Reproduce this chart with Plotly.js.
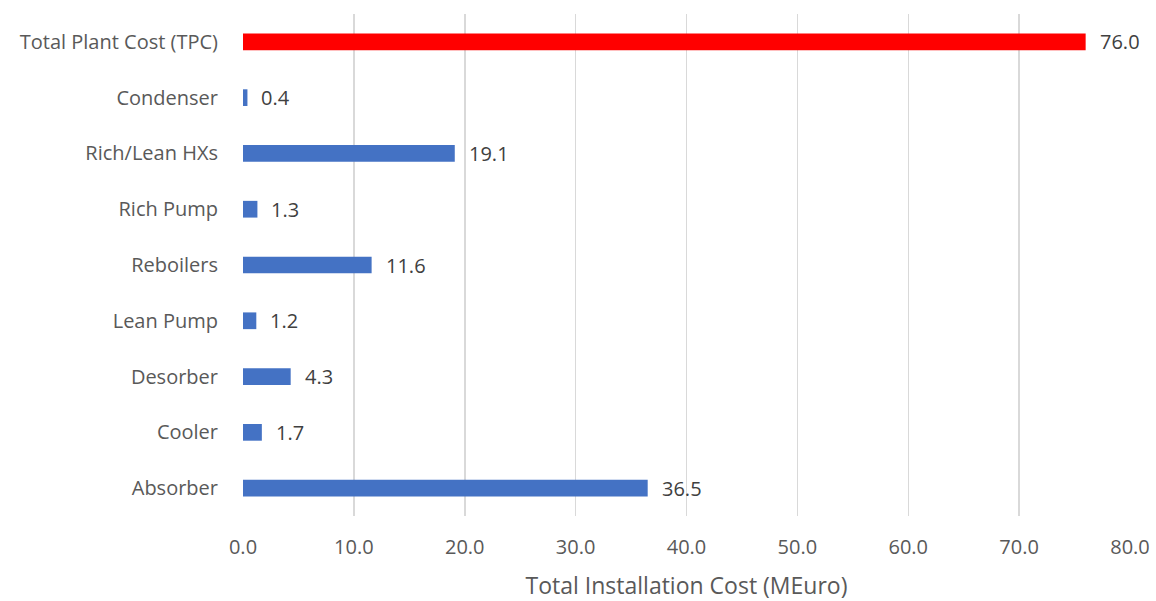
<!DOCTYPE html>
<html><head><meta charset="utf-8">
<script src="https://cdn.plot.ly/plotly-3.0.1.min.js"></script>
<style>html,body{margin:0;padding:0;background:#fff}#chart{width:1156px;height:601px}</style>
</head><body><div id="chart"></div>
<script>
const categories = ["Absorber","Cooler","Desorber","Lean Pump","Reboilers","Rich Pump","Rich/Lean HXs","Condenser","Total Plant Cost (TPC)"];
const costs = [36.5, 1.7, 4.3, 1.2, 11.6, 1.3, 19.1, 0.4, 76.0];
const barColors = ["#4472C4","#4472C4","#4472C4","#4472C4","#4472C4","#4472C4","#4472C4","#4472C4","#FF0000"];
const xTicks = [0,10,20,30,40,50,60,70,80];

const font = "Open Sans, sans-serif";
const trace = {
  type: "bar", orientation: "h",
  y: categories, x: costs,
  marker: {color: barColors},
  width: 0.3,
  hoverinfo: "none"
};
const annotations = categories.map((c,i)=>({
  x: costs[i], y: c, xref:"x", yref:"y",
  text: costs[i].toFixed(1), showarrow:false,
  xanchor:"left", xshift: 12,
  font:{family:font, size:20, color:"#404040"}
}));
const layout = {
  width:1156, height:601,
  margin:{l:243, r:26, t:14, b:85},
  paper_bgcolor:"#fff", plot_bgcolor:"#fff",
  showlegend:false,
  bargap:0.7,
  xaxis:{
    range:[0,80], tickvals:xTicks, tickformat:".1f",
    showgrid:true, gridcolor:"#d9d9d9", gridwidth:1.5,
    zeroline:false, showline:false,
    ticks:"outside", ticklen:13, tickcolor:"rgba(0,0,0,0)",
    tickfont:{family:font, size:20, color:"#595959"},
    title:{text:"Total Installation Cost (MEuro)", standoff:20, font:{family:font, size:23, color:"#595959"}}
  },
  yaxis:{
    type:"category", categoryorder:"array", categoryarray:categories,
    showgrid:false, zeroline:false, showline:false,
    ticks:"outside", ticklen:20, tickcolor:"rgba(0,0,0,0)",
    tickfont:{family:font, size:20, color:"#595959"}
  },
  annotations: annotations
};
Plotly.newPlot("chart",[trace],layout,{displayModeBar:false,staticPlot:true});
</script></body></html>
